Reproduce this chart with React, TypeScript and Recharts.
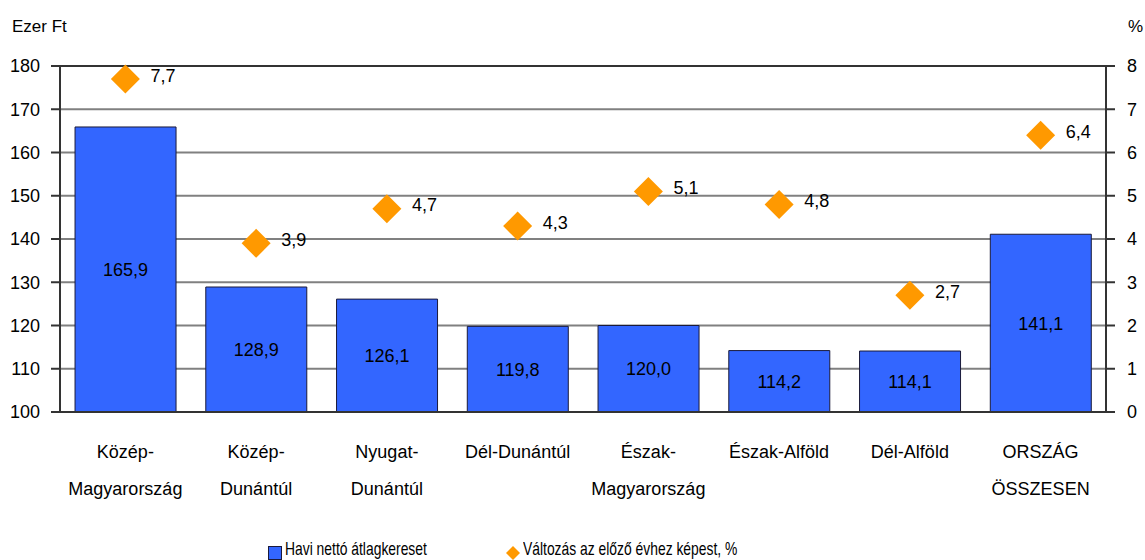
import { Bar, CartesianGrid, ComposedChart, LabelList, Legend, Line, ReferenceLine, XAxis, YAxis } from 'recharts';

const regionTop = ['Közép-', 'Közép-', 'Nyugat-', 'Dél-Dunántúl', 'Észak-', 'Észak-Alföld', 'Dél-Alföld', 'ORSZÁG'];
const regionBottom = ['Magyarország', 'Dunántúl', 'Dunántúl', '', 'Magyarország', '', '', 'ÖSSZESEN'];
const netWage = [165.9, 128.9, 126.1, 119.8, 120.0, 114.2, 114.1, 141.1];
const yearChange = [7.7, 3.9, 4.7, 4.3, 5.1, 4.8, 2.7, 6.4];
const leftTicks = [100, 110, 120, 130, 140, 150, 160, 170, 180];
const rightTicks = [0, 1, 2, 3, 4, 5, 6, 7, 8];

const data = regionTop.map((top, i) => ({
  name: `${top}${regionBottom[i]}`,
  top,
  bottom: regionBottom[i],
  wage: netWage[i],
  change: yearChange[i],
}));

const FONT = 'Liberation Sans, Arial, sans-serif';
const BLUE = '#3366FF';
const ORANGE = '#FF9900';
const AXIS = '#333333';

const fmt = (v: number) => v.toFixed(1).replace('.', ',');

function CategoryTick({ x, y, payload, index }: any) {
  const row = data[index ?? 0] ?? data.find((d) => d.name === payload.value);
  return (
    <g>
      <text x={x} y={y + 38} textAnchor="middle" fontSize={18} fontFamily={FONT} fill="#000">
        {row?.top}
      </text>
      <text x={x} y={y + 75} textAnchor="middle" fontSize={18} fontFamily={FONT} fill="#000">
        {row?.bottom}
      </text>
    </g>
  );
}

function Diamond({ cx, cy }: any) {
  if (cx == null || cy == null) return null;
  const r = 14.5;
  return <polygon points={`${cx},${cy - r} ${cx + r},${cy} ${cx},${cy + r} ${cx - r},${cy}`} fill={ORANGE} />;
}

function ChangeLabel({ x, y, value }: any) {
  return (
    <text x={x + 25} y={y - 2} dominantBaseline="middle" fontSize={18} fontFamily={FONT} fill="#000">
      {fmt(Number(value))}
    </text>
  );
}

// legend text in the source is visibly condensed, so squeeze it horizontally
const squeezed = {
  position: 'absolute' as const,
  top: 2,
  whiteSpace: 'nowrap' as const,
  transform: 'scaleX(0.73)',
  transformOrigin: 'left center',
};

function LegendBox() {
  return (
    <div style={{ position: 'relative', width: 1145, height: 24, fontFamily: FONT, fontSize: 19, color: '#000' }}>
      <div style={{ position: 'absolute', left: 268, top: 10, width: 12, height: 12, background: BLUE, border: '1px solid #1a1a3a' }} />
      <span style={{ ...squeezed, left: 285 }}>Havi nettó átlagkereset</span>
      <svg style={{ position: 'absolute', left: 505, top: 9 }} width={16} height={16}>
        <polygon points="8,1 15,8 8,15 1,8" fill={ORANGE} />
      </svg>
      <span style={{ ...squeezed, left: 523 }}>Változás az előző évhez képest, %</span>
    </div>
  );
}

export default function App() {
  return (
    <div style={{ position: 'relative', width: 1145, height: 560, background: '#fff', overflow: 'hidden' }}>
      <style>{'body{margin:0}'}</style>
      <div style={{ position: 'absolute', left: 12, top: 17, fontFamily: FONT, fontSize: 17 }}>Ezer Ft</div>
      <div style={{ position: 'absolute', left: 1128, top: 17, fontFamily: FONT, fontSize: 17 }}>%</div>
      <ComposedChart
        width={1145}
        height={560}
        data={data}
        margin={{ top: 66, right: 0, bottom: 0, left: 0 }}
        barCategoryGap="11.5%"
      >
        <CartesianGrid vertical={false} stroke="#808080" strokeWidth={2} yAxisId="left" />
        <XAxis
          dataKey="name"
          height={124}
          tickLine={false}
          axisLine={{ stroke: AXIS, strokeWidth: 2 }}
          tick={<CategoryTick />}
          interval={0}
        />
        <YAxis
          yAxisId="left"
          orientation="left"
          width={60}
          domain={[100, 180]}
          ticks={leftTicks}
          tickSize={9}
          tickMargin={11}
          axisLine={{ stroke: AXIS, strokeWidth: 2 }}
          tickLine={{ stroke: AXIS, strokeWidth: 2 }}
          tick={{ fontSize: 18, fontFamily: FONT, fill: '#000' }}
          allowDataOverflow
        />
        <YAxis
          yAxisId="right"
          orientation="right"
          width={39}
          domain={[0, 8]}
          ticks={rightTicks}
          tickSize={9}
          tickMargin={12}
          axisLine={{ stroke: AXIS, strokeWidth: 2 }}
          tickLine={{ stroke: AXIS, strokeWidth: 2 }}
          tick={{ fontSize: 18, fontFamily: FONT, fill: '#000', textAnchor: 'start' }}
        />
        <ReferenceLine yAxisId="left" y={180} stroke={AXIS} strokeWidth={2} />
        <Bar yAxisId="left" dataKey="wage" fill={BLUE} stroke="#1a1a3a" strokeWidth={1} isAnimationActive={false}>
          <LabelList
            dataKey="wage"
            position="center"
            formatter={(v: any) => fmt(Number(v))}
            style={{ fontSize: 18, fontFamily: FONT, fill: '#000' }}
          />
        </Bar>
        <Line
          yAxisId="right"
          dataKey="change"
          stroke="none"
          strokeWidth={0}
          dot={<Diamond />}
          activeDot={false}
          isAnimationActive={false}
        >
          <LabelList dataKey="change" content={<ChangeLabel />} />
        </Line>
        <Legend verticalAlign="bottom" height={24} wrapperStyle={{ bottom: 0, left: 0 }} content={() => <LegendBox />} />
      </ComposedChart>
    </div>
  );
}
